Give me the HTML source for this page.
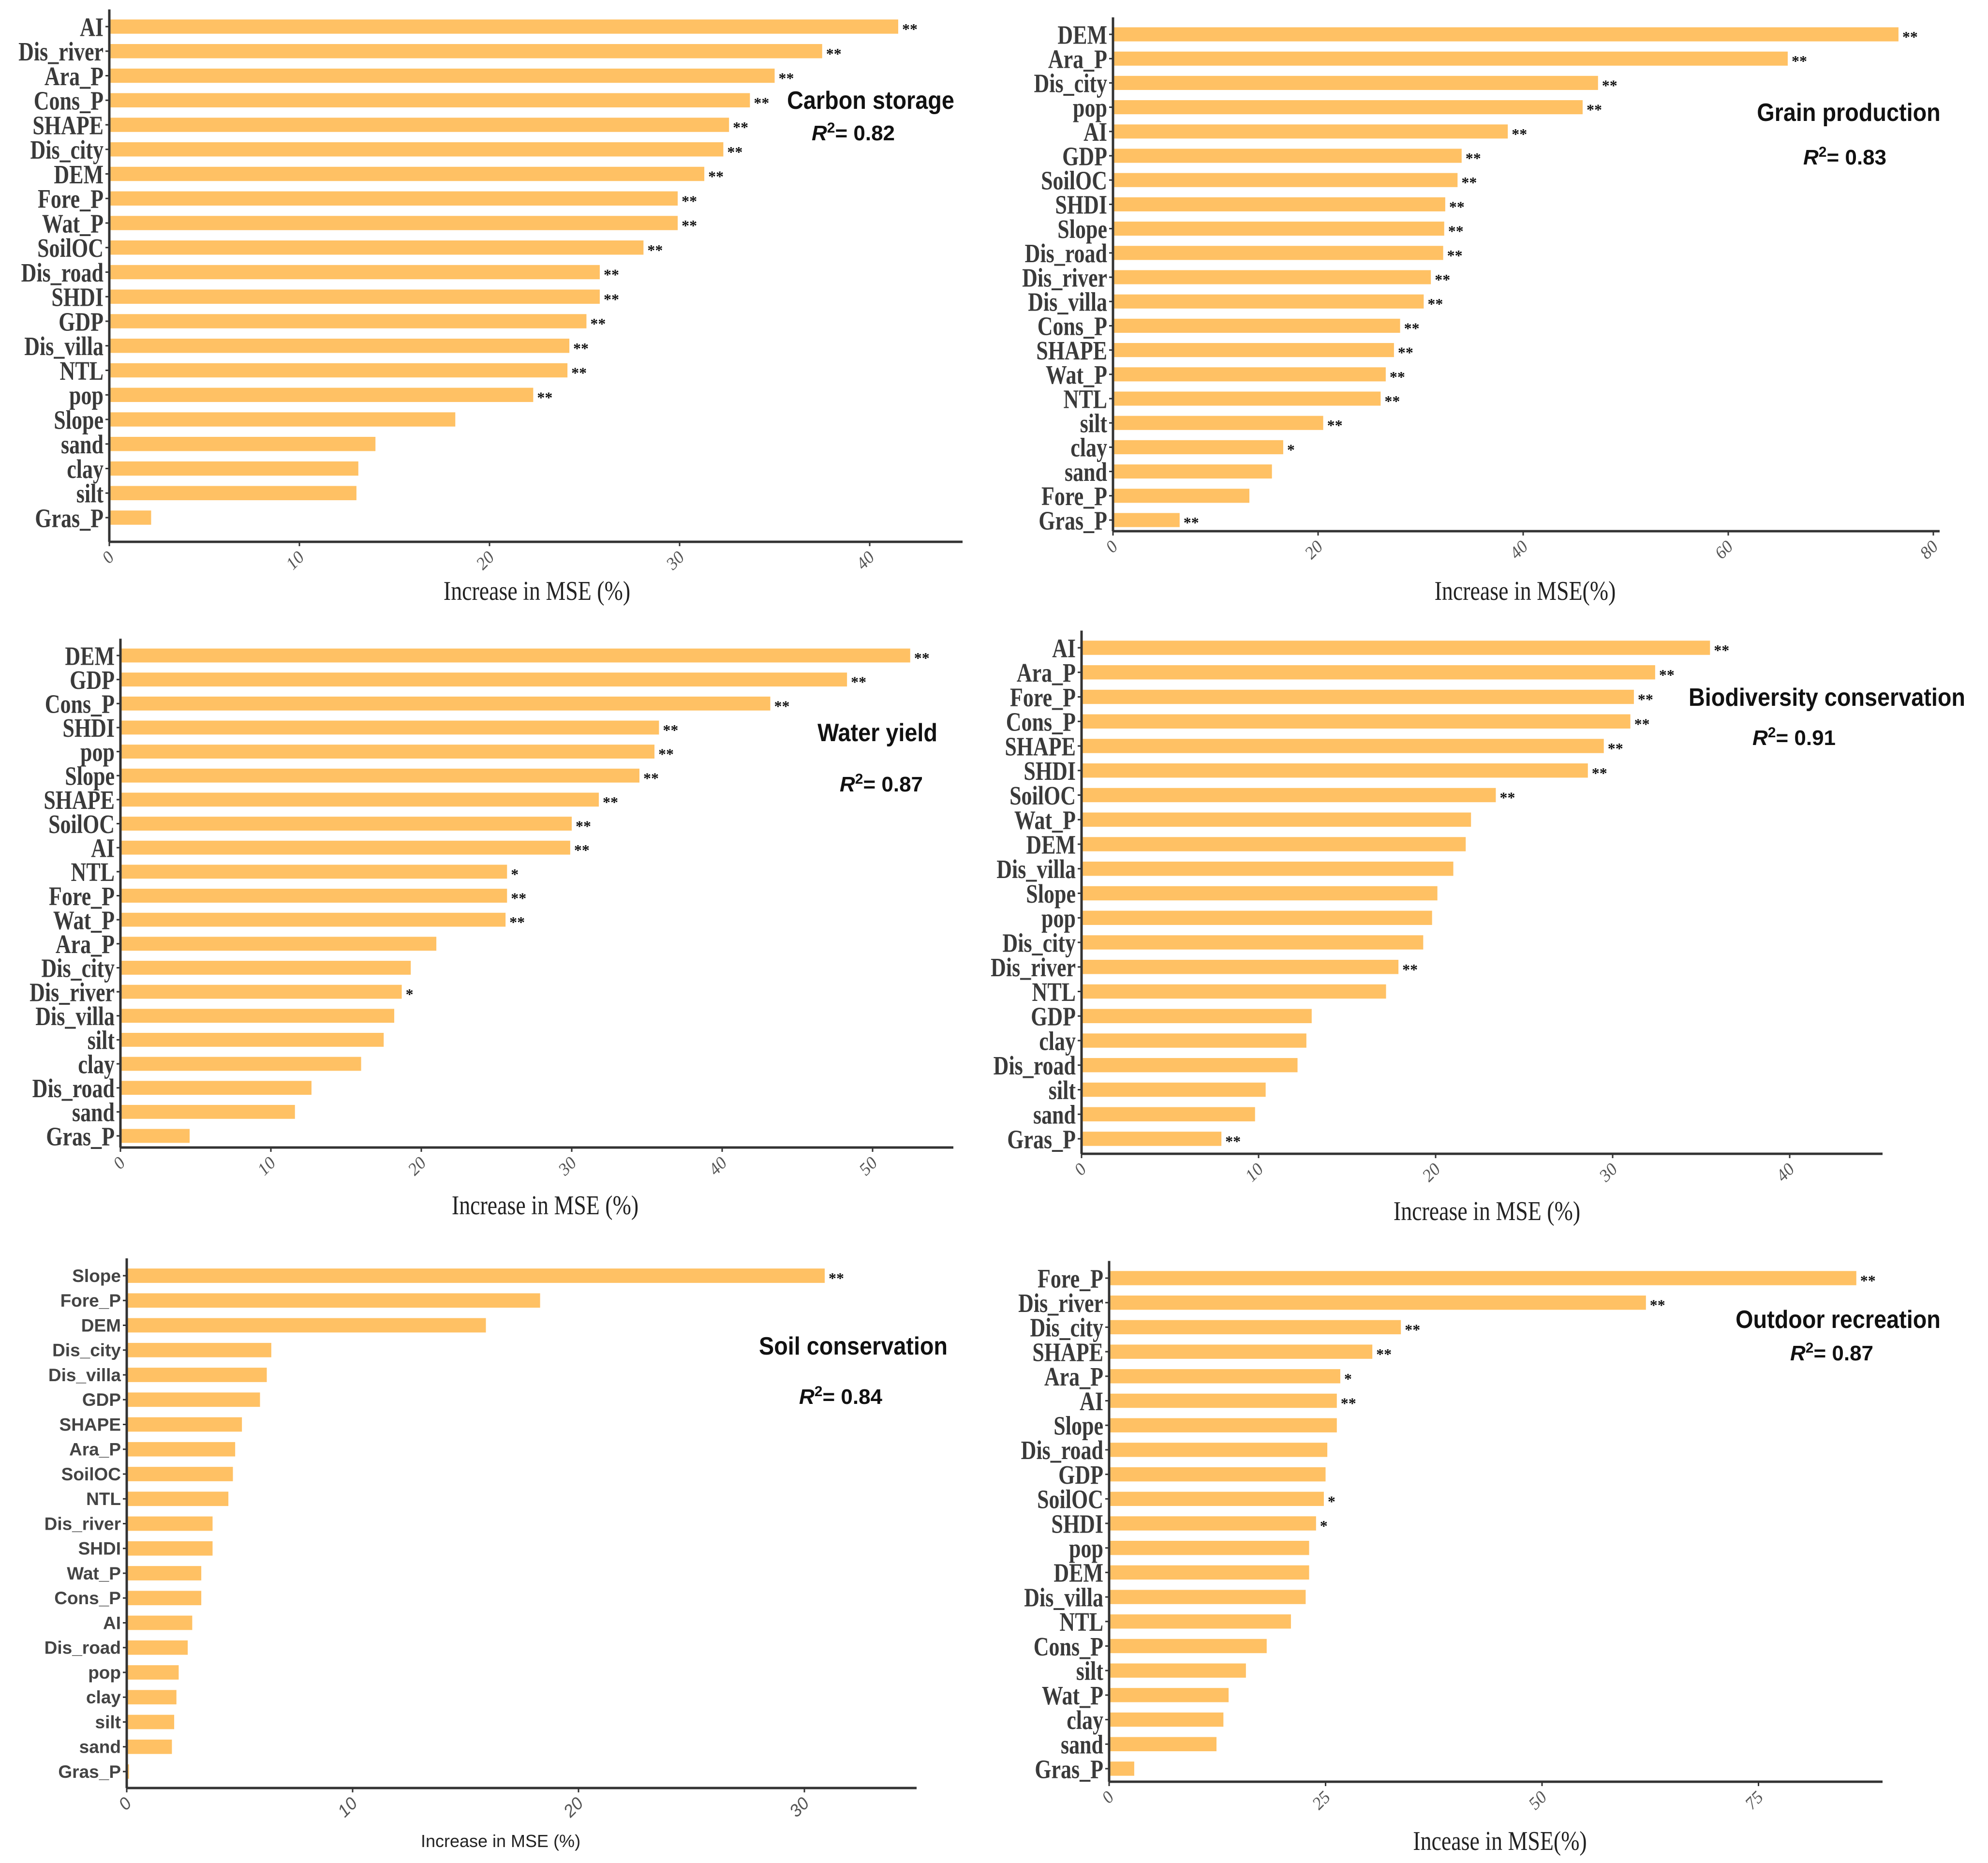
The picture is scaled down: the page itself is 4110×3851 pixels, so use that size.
<!DOCTYPE html>
<html><head><meta charset="utf-8"><style>
html,body{margin:0;padding:0;background:#fff;}
svg{display:block;}
</style></head><body>
<svg id="chart" width="4110" height="3851" viewBox="0 0 4110 3851" xmlns="http://www.w3.org/2000/svg"></svg>
<script>
// Panel 1: Carbon storage
const p1Categories = ["AI","Dis_river","Ara_P","Cons_P","SHAPE","Dis_city","DEM","Fore_P","Wat_P","SoilOC","Dis_road","SHDI","GDP","Dis_villa","NTL","pop","Slope","sand","clay","silt","Gras_P"];
const p1Values = [41.5,37.5,35,33.7,32.6,32.3,31.3,29.9,29.9,28.1,25.8,25.8,25.1,24.2,24.1,22.3,18.2,14,13.1,13,2.2];
const p1Stars = ["**","**","**","**","**","**","**","**","**","**","**","**","**","**","**","**","","","","",""];
const p1Ticks = [0,10,20,30,40];
// Panel 2: Grain production
const p2Categories = ["DEM","Ara_P","Dis_city","pop","AI","GDP","SoilOC","SHDI","Slope","Dis_road","Dis_river","Dis_villa","Cons_P","SHAPE","Wat_P","NTL","silt","clay","sand","Fore_P","Gras_P"];
const p2Values = [76.6,65.8,47.3,45.8,38.5,34,33.6,32.4,32.3,32.2,31,30.3,28,27.4,26.6,26.1,20.5,16.6,15.5,13.3,6.5];
const p2Stars = ["**","**","**","**","**","**","**","**","**","**","**","**","**","**","**","**","**","*","","","**"];
const p2Ticks = [0,20,40,60,80];
// Panel 3: Water yield
const p3Categories = ["DEM","GDP","Cons_P","SHDI","pop","Slope","SHAPE","SoilOC","AI","NTL","Fore_P","Wat_P","Ara_P","Dis_city","Dis_river","Dis_villa","silt","clay","Dis_road","sand","Gras_P"];
const p3Values = [52.5,48.3,43.2,35.8,35.5,34.5,31.8,30,29.9,25.7,25.7,25.6,21,19.3,18.7,18.2,17.5,16,12.7,11.6,4.6];
const p3Stars = ["**","**","**","**","**","**","**","**","**","*","**","**","","","*","","","","","",""];
const p3Ticks = [0,10,20,30,40,50];
// Panel 4: Biodiversity conservation
const p4Categories = ["AI","Ara_P","Fore_P","Cons_P","SHAPE","SHDI","SoilOC","Wat_P","DEM","Dis_villa","Slope","pop","Dis_city","Dis_river","NTL","GDP","clay","Dis_road","silt","sand","Gras_P"];
const p4Values = [35.5,32.4,31.2,31,29.5,28.6,23.4,22,21.7,21,20.1,19.8,19.3,17.9,17.2,13,12.7,12.2,10.4,9.8,7.9];
const p4Stars = ["**","**","**","**","**","**","**","","","","","","","**","","","","","","","**"];
const p4Ticks = [0,10,20,30,40];
// Panel 5: Soil conservation
const p5Categories = ["Slope","Fore_P","DEM","Dis_city","Dis_villa","GDP","SHAPE","Ara_P","SoilOC","NTL","Dis_river","SHDI","Wat_P","Cons_P","AI","Dis_road","pop","clay","silt","sand","Gras_P"];
const p5Values = [30.9,18.3,15.9,6.4,6.2,5.9,5.1,4.8,4.7,4.5,3.8,3.8,3.3,3.3,2.9,2.7,2.3,2.2,2.1,2,0.1];
const p5Stars = ["**","","","","","","","","","","","","","","","","","","","",""];
const p5Ticks = [0,10,20,30];
// Panel 6: Outdoor recreation
const p6Categories = ["Fore_P","Dis_river","Dis_city","SHAPE","Ara_P","AI","Slope","Dis_road","GDP","SoilOC","SHDI","pop","DEM","Dis_villa","NTL","Cons_P","silt","Wat_P","clay","sand","Gras_P"];
const p6Values = [86.3,62,33.7,30.4,26.7,26.3,26.3,25.2,25,24.8,23.9,23.1,23.1,22.7,21,18.2,15.8,13.8,13.2,12.4,2.9];
const p6Stars = ["**","**","**","**","*","**","","","","*","*","","","","","","","","","",""];
const p6Ticks = [0,25,50,75];

const NS = "http://www.w3.org/2000/svg";
const svg = document.getElementById("chart");
function mk(tag, attrs, parent){const e=document.createElementNS(NS,tag);for(const k in attrs)e.setAttribute(k,attrs[k]);(parent||svg).appendChild(e);return e;}

const SERIF = '"Liberation Serif", serif';
const SANS = '"Liberation Sans", sans-serif';

function panel(id, cats, vals, stars, ticks, g){
  const grp = mk("g",{});
  
  
  const xs = v => g.x0 + v*g.unit;
  const n = cats.length;
  const step = (g.yBot-g.yTop)/(n-1);
  const ys = i => g.yTop + i*step;
  const bh = step*0.58;
  const lf = g.sans ? SANS : SERIF;
  const sx = g.sans ? 1 : 0.8;
  for(let i=0;i<n;i++){
    const r = mk("rect",{x:xs(0),y:ys(i)-bh/2,width:Math.max(2,xs(vals[i])-xs(0)),height:bh,fill:"#FFC164"},grp);
    
    
    const t = mk("text",{x:0,y:0,"text-anchor":"end","font-family":lf,"font-size":g.lfs,"font-weight":"bold",fill:g.sans?"#444":"#3a3a3a",transform:`translate(${g.x0-12} ${ys(i)+g.lfs*0.35}) scale(${sx} 1)`},grp);
    t.textContent = cats[i];
    
    
    mk("line",{x1:g.x0-8,x2:g.x0,y1:ys(i),y2:ys(i),stroke:"#333","stroke-width":3},grp);
    if(stars[i]){
      const s = mk("text",{x:xs(vals[i])+8,y:ys(i)+16,"font-family":SERIF,"font-size":32,"font-weight":"bold",fill:"#111"},grp);
      s.textContent = stars[i];
      
      
    }
  }
  const ya = mk("line",{x1:g.x0,x2:g.x0,y1:g.yTop-step*0.7,y2:g.axisBottom,stroke:"#333","stroke-width":5},grp);
  
  
  const xa = mk("line",{x1:g.x0,x2:g.axisRight,y1:g.axisBottom,y2:g.axisBottom,stroke:"#333","stroke-width":5},grp);
  
  
  ticks.forEach(tv=>{
    const x=xs(tv);
    mk("line",{x1:x,x2:x,y1:g.axisBottom,y2:g.axisBottom+9,stroke:"#333","stroke-width":3},grp);
    const tl = mk("text",{x:x+12,y:g.axisBottom+34,"text-anchor":"end","font-family":lf,"font-size":36,"font-style":"italic",fill:"#555",transform:`rotate(-45 ${x+12} ${g.axisBottom+34})`},grp);
    tl.textContent = tv;
    
    
  });
  const at = mk("text",{x:0,y:0,"text-anchor":"middle","font-family":lf,"font-size":g.tfs,fill:"#222",transform:`translate(${g.titleX} ${g.titleY}) scale(${g.sans?1:0.82} 1)`},grp);
  at.textContent = g.axisTitle;
  
  
  const lt = mk("text",{x:0,y:0,"text-anchor":"middle","font-family":SANS,"font-size":52,"font-weight":"bold",fill:"#111",transform:`translate(${g.lx} ${g.ly}) scale(0.9 1)`},grp);
  lt.textContent = g.label;
  
  
  const rt = mk("text",{x:g.rx,y:g.ry,"text-anchor":"middle","font-family":SANS,"font-size":44,"font-weight":"bold",fill:"#111"},grp);
  rt.innerHTML = '<tspan font-style="italic">R</tspan><tspan baseline-shift="super" font-size="30">2</tspan><tspan>= '+g.r2+'</tspan>';
  
  
}

panel("carbon-storage", p1Categories, p1Values, p1Stars, p1Ticks,
 {x0:226,unit:39.3,yTop:55,yBot:1070,axisBottom:1120,axisRight:1990,titleX:1110,titleY:1240,tfs:56,lfs:55,axisTitle:"Increase in MSE (%)",label:"Carbon storage",lx:1800,ly:225,rx:1764,ry:290,r2:"0.82"});
panel("grain-production", p2Categories, p2Values, p2Stars, p2Ticks,
 {x0:2301,unit:21.2,yTop:71,yBot:1075,axisBottom:1098,axisRight:4010,titleX:3153,titleY:1240,tfs:56,lfs:55,axisTitle:"Increase in MSE(%)",label:"Grain production",lx:3822,ly:250,rx:3814,ry:340,r2:"0.83"});
panel("water-yield", p3Categories, p3Values, p3Stars, p3Ticks,
 {x0:249,unit:31.1,yTop:1355,yBot:2348,axisBottom:2372,axisRight:1971,titleX:1127,titleY:2510,tfs:56,lfs:55,axisTitle:"Increase in MSE (%)",label:"Water yield",lx:1814,ly:1532,rx:1822,ry:1636,r2:"0.87"});
panel("biodiversity-conservation", p4Categories, p4Values, p4Stars, p4Ticks,
 {x0:2236,unit:36.6,yTop:1339,yBot:2354,axisBottom:2385,axisRight:3892,titleX:3074,titleY:2522,tfs:56,lfs:55,axisTitle:"Increase in MSE (%)",label:"Biodiversity conservation",lx:3777,ly:1459,rx:3709,ry:1540,r2:"0.91"});
panel("soil-conservation", p5Categories, p5Values, p5Stars, p5Ticks,
 {x0:262,unit:46.7,yTop:2637,yBot:3662,axisBottom:3696,axisRight:1895,titleX:1035,titleY:3818,tfs:36,lfs:37,sans:true,axisTitle:"Increase in MSE (%)",label:"Soil conservation",lx:1764,ly:2800,rx:1738,ry:2902,r2:"0.84"});
panel("outdoor-recreation", p6Categories, p6Values, p6Stars, p6Ticks,
 {x0:2293,unit:17.9,yTop:2642,yBot:3656,axisBottom:3683,axisRight:3892,titleX:3101,titleY:3824,tfs:56,lfs:55,axisTitle:"Incease in MSE(%)",label:"Outdoor recreation",lx:3800,ly:2745,rx:3787,ry:2812,r2:"0.87"});
</script>
</body></html>
